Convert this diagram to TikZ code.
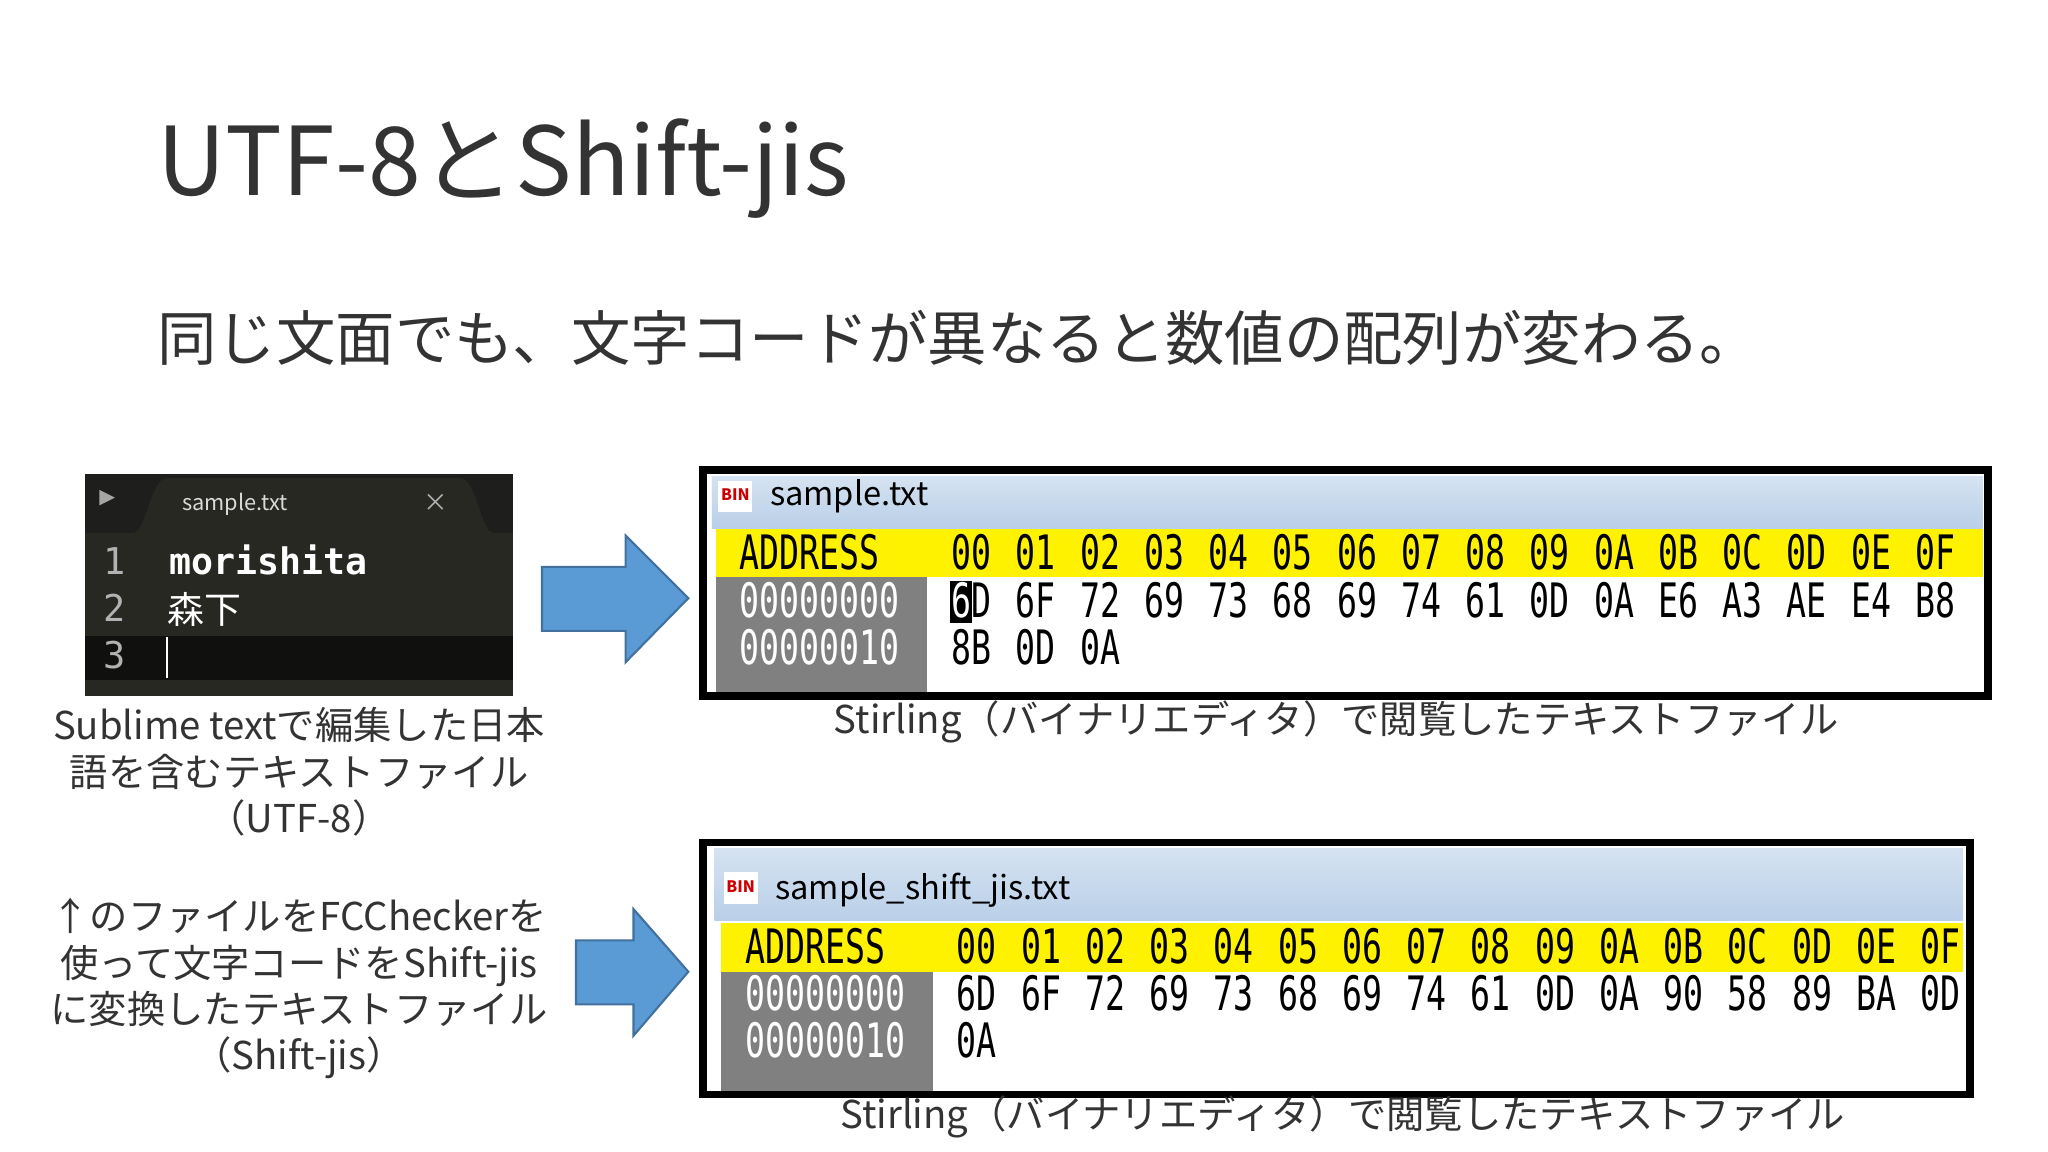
\documentclass[tikz,border=0pt]{standalone}
\usepackage{fontspec}
\setmainfont{Noto Sans CJK JP}
\newfontfamily\hexfont[FakeStretch=0.7]{DejaVu Sans Mono}
\newfontfamily\codefont{DejaVu Sans Mono}
\definecolor{arrowblue}{HTML}{5B9BD5}
\definecolor{arrowedge}{HTML}{41719C}
\definecolor{editorbg}{HTML}{272822}
\definecolor{tabbg}{HTML}{1E1F1C}
\definecolor{hexgray}{HTML}{808080}
\definecolor{titlebar}{HTML}{B9CFE8}
\tikzset{
  bigarrow/.style={fill=arrowblue, draw=arrowedge, line width=0.6pt},
  caption/.style={align=center, font=\fontsize{10.9pt}{13.2pt}\selectfont, text=black!80},
  hextext/.style={font=\hexfont\fontsize{13.5pt}{14pt}\selectfont, anchor=base west, inner sep=0pt},
  addrtext/.style={hextext, text=white},
}
\begin{document}
\begin{tikzpicture}[x=0.013061cm,y=-0.013061cm]
    \useasboundingbox[fill=white] (0,0) rectangle (1568,882);

    % Title and subtitle
    \node[anchor=base west, inner sep=0pt, font=\fontsize{27pt}{29pt}\selectfont, text=black!80] (title) at (120,150) {UTF-8とShift-jis};
    \node[anchor=base west, inner sep=0pt, font=\fontsize{16.9pt}{18pt}\selectfont, text=black!80] (subtitle) at (120,276) {同じ文面でも、文字コードが異なると数値の配列が変わる。};

    % Editor screenshot
    \fill[editorbg] (65,363) rectangle (393,533);
    \fill[tabbg] (65,363) rectangle (393,408);
    \fill[editorbg] (102,408) .. controls (112,408) and (115,366) .. (128,366) -- (352,366) .. controls (365,366) and (368,408) .. (378,408) -- cycle;
    \fill[gray!70] (76,375) -- (88,381) -- (76,387) -- cycle;
    \node[anchor=base west, text=gray!30, font=\fontsize{6.2pt}{7pt}\selectfont] (tabname) at (130,391) {sample.txt};
    \node[text=gray!60, font=\fontsize{7pt}{7pt}\selectfont] (tabclose) at (334,385) {×};
    \fill[black!60!editorbg] (65,487) rectangle (393,521);
    \foreach \n/\y in {1/440,2/476,3/512}
      \node[anchor=base west, text=gray!60, font=\codefont\fontsize{10.5pt}{11pt}\selectfont] (ln\n) at (70,\y) {\n};
    \node[anchor=base west, inner sep=0pt, text=white!90, font=\codefont\bfseries\fontsize{10.4pt}{11pt}\selectfont] (line1) at (129,440) {morishita};
    \node[anchor=base west, inner sep=0pt, text=white!90, font=\fontsize{10.5pt}{11pt}\selectfont] (line2) at (128,477) {森下};
    \draw[white] (128,488) -- (128,519);

    \node[caption] (cap1) at (229,591) {Sublime textで編集した日本\\語を含むテキストファイル\\（UTF-8）};
    \node[caption] (cap2) at (229,757) {↑のファイルをFCCheckerを\\使って文字コードをShift-jis\\に変換したテキストファイル\\（Shift-jis）};

    % Arrows
    \draw[bigarrow] (415,434) -- (479,434) -- (479,410) -- (527,458) -- (479,507) -- (479,483) -- (415,483) -- cycle;
    \draw[bigarrow] (441,720) -- (485,720) -- (485,696) -- (527,744) -- (485,793) -- (485,769) -- (441,769) -- cycle;

    % Hex window 1
    \draw[line width=2.2pt] (538,360) rectangle (1522,533);
    \shade[top color=titlebar!60, bottom color=titlebar] (545,365) rectangle (1518,405);
    \fill[white] (550,368) rectangle (576,392);
    \node[text=red!80!black, font=\bfseries\fontsize{4.5pt}{5pt}\selectfont, inner sep=0pt] (icon1) at (563,379) {BIN};
    \node[anchor=base west, inner sep=0pt, font=\fontsize{9.3pt}{10pt}\selectfont] (wname1) at (589,387) {sample.txt};
    \fill[yellow] (548,405) rectangle (1518,442);
    \fill[hexgray] (548,442) rectangle (710,530);
    \fill[white] (710,442) rectangle (1518,530);
    \node[hextext] (hdr1) at (566,436) {ADDRESS};
    \foreach \b [count=\i from 0] in {00,01,02,03,04,05,06,07,08,09,0A,0B,0C,0D,0E,0F}
      \node[hextext] (h1c\i) at (728+49.2*\i,436) {\b};
    \node[addrtext] (a1r0) at (566,473) {00000000};
    \node[addrtext] (a1r1) at (566,509) {00000010};
    \fill (727,445) rectangle (744,477);
    \foreach \b [count=\i from 1] in {6F,72,69,73,68,69,74,61,0D,0A,E6,A3,AE,E4,B8}
      \node[hextext] (d1r0c\i) at (728+49.2*\i,473) {\b};
    \node[hextext] (d1r0c0) at (728,473) {\textcolor{white}{6}D};
    \foreach \b [count=\i from 0] in {8B,0D,0A}
      \node[hextext] (d1r1c\i) at (728+49.2*\i,509) {\b};
    \node[caption] (cap3) at (1023,553) {Stirling（バイナリエディタ）で閲覧したテキストファイル};

    % Hex window 2
    \draw[line width=2.2pt] (538,645) rectangle (1508,838);
    \shade[top color=titlebar!60, bottom color=titlebar] (547,650) rectangle (1503,705);
    \fill[white] (554,668) rectangle (580,692);
    \node[text=red!80!black, font=\bfseries\fontsize{4.5pt}{5pt}\selectfont, inner sep=0pt] (icon2) at (567,679) {BIN};
    \node[anchor=base west, inner sep=0pt, font=\fontsize{9.3pt}{10pt}\selectfont] (wname2) at (593,689) {sample\_shift\_jis.txt};
    \fill[yellow] (552,707) rectangle (1503,744);
    \fill[hexgray] (552,744) rectangle (714,835);
    \fill[white] (714,744) rectangle (1503,835);
    \node[hextext] (hdr2) at (570,738) {ADDRESS};
    \foreach \b [count=\i from 0] in {00,01,02,03,04,05,06,07,08,09,0A,0B,0C,0D,0E,0F}
      \node[hextext] (h2c\i) at (732+49.2*\i,738) {\b};
    \node[addrtext] (a2r0) at (570,774) {00000000};
    \node[addrtext] (a2r1) at (570,810) {00000010};
    \foreach \b [count=\i from 0] in {6D,6F,72,69,73,68,69,74,61,0D,0A,90,58,89,BA,0D}
      \node[hextext] (d2r0c\i) at (732+49.2*\i,774) {\b};
    \node[hextext] (d2r1c0) at (732,810) {0A};
    \node[caption] (cap4) at (1028,855) {Stirling（バイナリエディタ）で閲覧したテキストファイル};
\end{tikzpicture}
\end{document}
